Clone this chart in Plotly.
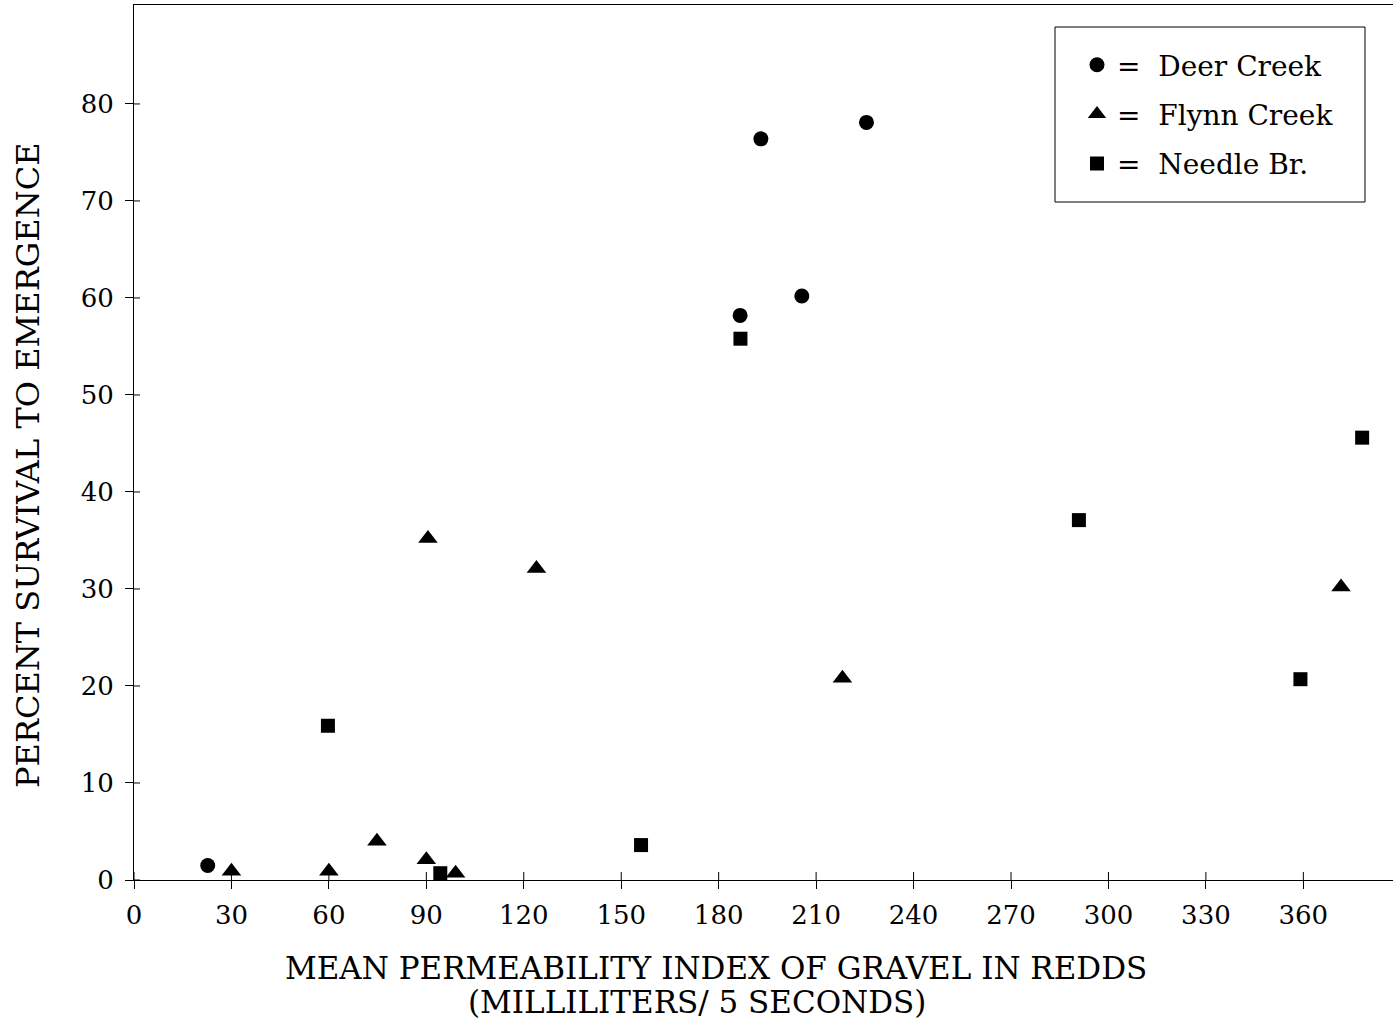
import plotly.graph_objects as go

# Survival to emergence vs. mean permeability index, by stream
deer_x = [22.7, 186.6, 193.0, 205.6, 225.5]
deer_y = [1.5, 58.2, 76.4, 60.2, 78.1]

flynn_x = [30.0, 60.0, 74.8, 90.0, 90.5, 99.0, 123.9, 218.1, 371.6]
flynn_y = [0.9, 0.9, 4.0, 2.1, 35.2, 0.7, 32.1, 20.8, 30.2]

needle_x = [59.7, 94.3, 156.1, 186.7, 290.9, 359.1, 378.1]
needle_y = [15.9, 0.7, 3.6, 55.8, 37.1, 20.7, 45.6]

x_ticks = [0, 30, 60, 90, 120, 150, 180, 210, 240, 270, 300, 330, 360]
y_ticks = [0, 10, 20, 30, 40, 50, 60, 70, 80]

FONT = "DejaVu Serif"
X_RANGE = [0, 387.6]
Y_RANGE = [0, 90.2]
TICK_LEN = 8

fig = go.Figure()

series = [
    ("=  Deer Creek", deer_x, deer_y, "circle", 15),
    ("=  Flynn Creek", flynn_x, flynn_y, "triangle-up", 17),
    ("=  Needle Br.", needle_x, needle_y, "square", 14),
]
for name, xs, ys, sym, size in series:
    fig.add_trace(go.Scatter(
        x=xs, y=ys, mode="markers", name=name, legendgroup=name,
        marker=dict(symbol=sym, size=size, color="black", line=dict(width=0)),
    ))

axis_common = dict(showgrid=False, zeroline=False, linecolor="black", linewidth=1,
                   tickcolor="black", tickwidth=1, ticklen=TICK_LEN,
                   tickfont=dict(family=FONT, size=26, color="black"))

fig.update_layout(
    width=1393, height=1023,
    margin=dict(l=134, r=0, t=5, b=143),
    paper_bgcolor="white", plot_bgcolor="white",
    showlegend=True,
    legend=dict(x=(1077 - 134) / 1259, y=(880 - 40) / 875, xanchor="left", yanchor="top",
                bgcolor="rgba(0,0,0,0)", borderwidth=0,
                font=dict(family=FONT, size=28, color="black"),
                tracegroupgap=10, itemsizing="trace"),
    xaxis=dict(range=X_RANGE, tickmode="array", tickvals=x_ticks,
               ticktext=[str(v) for v in x_ticks], ticks="outside",
               showline=True, mirror=True, ticklabelstandoff=4, **axis_common),
    yaxis=dict(range=Y_RANGE, tickmode="array", tickvals=y_ticks,
               ticktext=[str(v) for v in y_ticks], ticks="outside",
               showline=True, mirror=False, ticklabelstandoff=6, **axis_common),
)

# inner half of the cross-shaped tick marks
for v in x_ticks:
    fig.add_shape(type="line", xref="x", yref="y", ysizemode="pixel", yanchor=0,
                  x0=v, x1=v, y0=0, y1=TICK_LEN, line=dict(color="black", width=1))
for v in y_ticks:
    fig.add_shape(type="line", xref="x", yref="y", xsizemode="pixel", xanchor=0,
                  x0=0, x1=6, y0=v, y1=v, line=dict(color="black", width=1))

# legend frame
fig.add_shape(type="rect", xref="paper", yref="paper",
              x0=(1055 - 134) / 1259, x1=(1365 - 134) / 1259,
              y0=(880 - 202) / 875, y1=(880 - 27) / 875,
              line=dict(color="black", width=1), fillcolor="rgba(0,0,0,0)")

# axis titles
fig.add_annotation(text="PERCENT SURVIVAL TO EMERGENCE", textangle=-90,
                   xref="paper", yref="paper", x=(28 - 134) / 1259, y=(880 - 465) / 875,
                   xanchor="center", yanchor="middle", showarrow=False,
                   font=dict(family=FONT, size=32, color="black"))
fig.add_annotation(text="MEAN PERMEABILITY INDEX OF GRAVEL IN REDDS",
                   xref="paper", yref="paper", x=(716 - 134) / 1259, y=(880 - 968) / 875,
                   xanchor="center", yanchor="middle", showarrow=False,
                   font=dict(family=FONT, size=31, color="black"))
fig.add_annotation(text="(MILLILITERS/ 5 SECONDS)",
                   xref="paper", yref="paper", x=(697 - 134) / 1259, y=(880 - 1002) / 875,
                   xanchor="center", yanchor="middle", showarrow=False,
                   font=dict(family=FONT, size=31, color="black"))

fig.write_html("out.html")
